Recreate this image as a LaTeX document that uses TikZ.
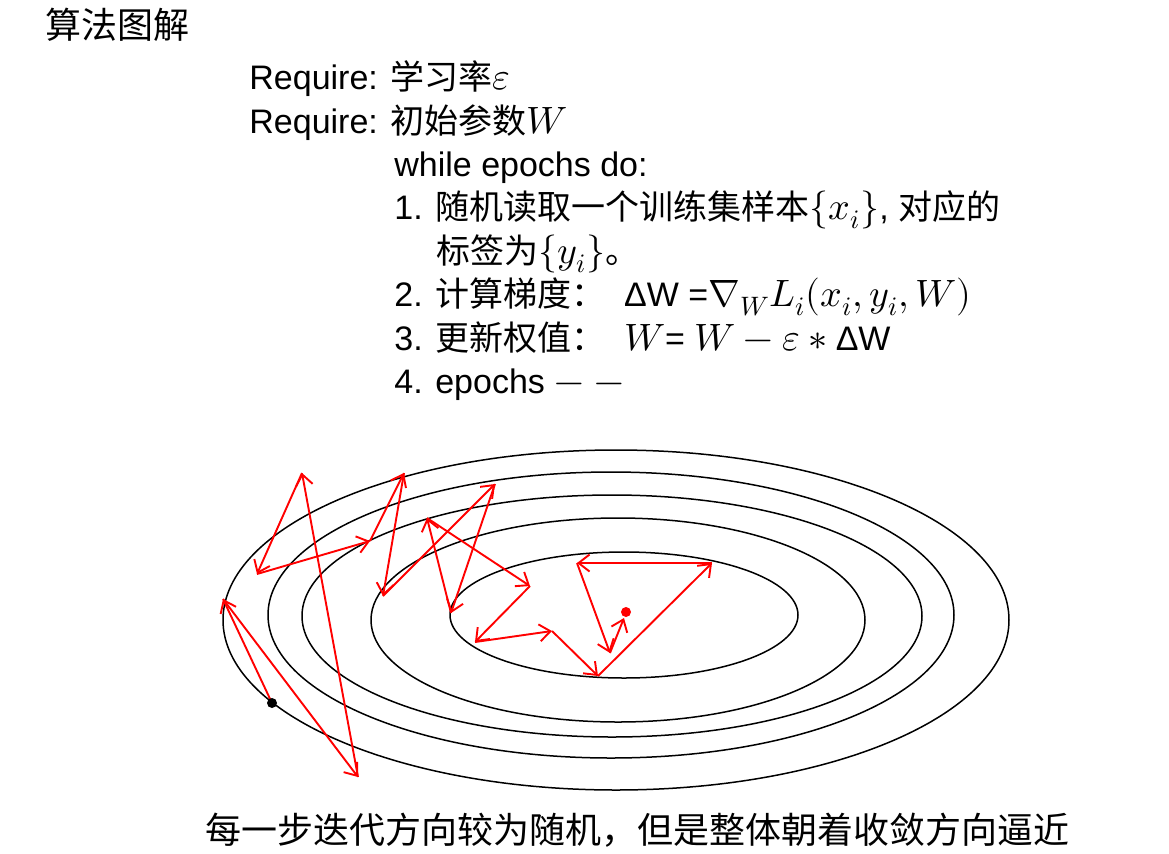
\documentclass[tikz,border=0pt]{standalone}
\usepackage{fontspec}
\usepackage{unicode-math}
\setmainfont{Liberation Sans}
\setmathfont{Latin Modern Math}[Scale=1.12]
\newfontfamily\cjk{Noto Sans CJK SC}
\usetikzlibrary{arrows.meta, positioning}
\newcommand{\zh}[1]{{\cjk #1}}

\begin{document}
\begin{tikzpicture}[
  x=0.5pt, y=-0.5pt,
  every node/.style = {inner sep=0pt},
  algline/.style = {anchor=base west, font=\fontsize{17}{20}\selectfont},
  headline/.style = {anchor=west, font=\cjk\fontsize{18}{21}\selectfont},
  contour/.style = {black, line width=0.75pt},
  sgd/.style = {->, red, line width=0.95pt},
  >={Straight Barb[length=5.5pt,width=8.5pt]}
]
  \useasboundingbox (0,0) rectangle (1169,853);

  \node[headline] (title) at (45,25) {算法图解};

  \node[algline] (req1) at (249,89) {Require: \zh{学习率}$\varepsilon$};
  \node[algline] (req2) at (249,133) {Require: \zh{初始参数}$W$};
  \node[algline] (loop) at (394,176) {while epochs do:};
  \node[algline] (st1) at (394,219) {1. \zh{随机读取一个训练集样本}$\{x_i\}$, \zh{对应的}};
  \node[algline] (st1b) at (436,263) {\zh{标签为}$\{y_i\}$\zh{。}};
  \node[algline] (st2) at (394,306) {2. \zh{计算梯度：}\ \ ΔW =$\nabla_W L_i(x_i,y_i,W)$};
  \node[algline] (st3) at (394,350) {3. \zh{更新权值：}\ \ $W$= $W - \varepsilon \ast{}$ΔW};
  \node[algline] (st4) at (394,393) {4. epochs $-\;-$};

  % loss contours
  \draw[contour] (616,620) ellipse [x radius=393, y radius=170];
  \draw[contour] (611,615) ellipse [x radius=343, y radius=143];
  \draw[contour] (612,616) ellipse [x radius=310, y radius=121];
  \draw[contour] (618,620) ellipse [x radius=247, y radius=102];
  \draw[contour] (624,615) ellipse [x radius=174, y radius=63];

  % sgd steps
  \coordinate (s0) at (272,703);
  \coordinate (s1) at (223,599);
  \coordinate (s2) at (358,777);
  \coordinate (s3) at (302,473);
  \coordinate (s4) at (257,574);
  \coordinate (s5) at (370,541);
  \coordinate (s6) at (404,473);
  \coordinate (s7) at (383,596);
  \coordinate (s8) at (495,484);
  \coordinate (s9) at (451,613);
  \coordinate (s10) at (427,518);
  \coordinate (s11) at (530,586);
  \coordinate (s12) at (475,642);
  \coordinate (s13) at (552,631);
  \coordinate (s14) at (598,676);
  \coordinate (s15) at (712,563);
  \coordinate (s16) at (577,563);
  \coordinate (s17) at (610,653);
  \coordinate (s18) at (624,618);
  \coordinate (goal) at (626,612);

  \draw[sgd] (s0) -- (s1);
  \draw[sgd] (s1) -- (s2);
  \draw[sgd] (s2) -- (s3);
  \draw[sgd] (s3) -- (s4);
  \draw[sgd] (s4) -- (s5);
  \draw[sgd] (s5) -- (s6);
  \draw[sgd] (s6) -- (s7);
  \draw[sgd] (s7) -- (s8);
  \draw[sgd] (s8) -- (s9);
  \draw[sgd] (s9) -- (s10);
  \draw[sgd] (s10) -- (s11);
  \draw[sgd] (s11) -- (s12);
  \draw[sgd] (s12) -- (s13);
  \draw[sgd] (s13) -- (s14);
  \draw[sgd] (s14) -- (s15);
  \draw[sgd] (s15) -- (s16);
  \draw[sgd] (s16) -- (s17);
  \draw[sgd] (s17) -- (s18);

  \fill[black] (s0) circle [radius=5];
  \fill[red] (goal) circle [radius=5];

  \node[headline] (caption) at (205,830) {每一步迭代方向较为随机，但是整体朝着收敛方向逼近};
\end{tikzpicture}
\end{document}
